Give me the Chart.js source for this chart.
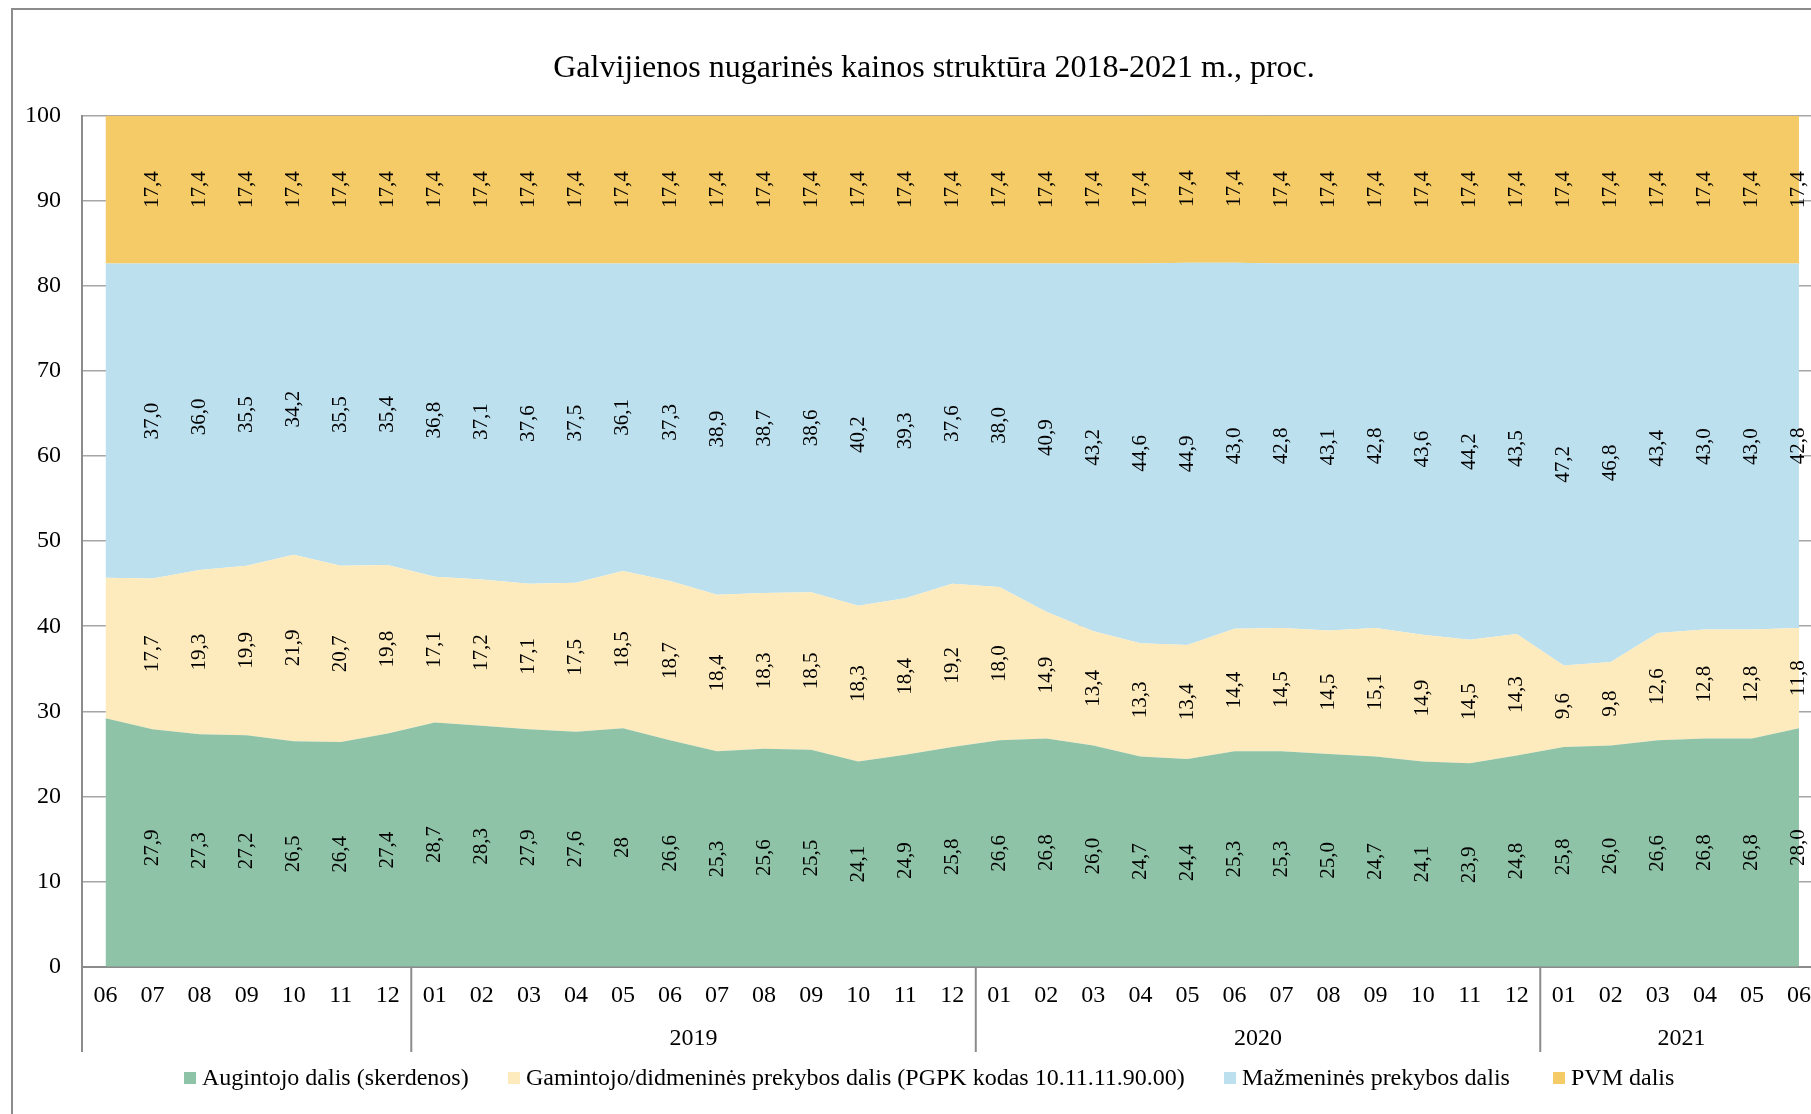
<!DOCTYPE html>
<html lang="lt">
<head>
<meta charset="utf-8">
<title>Galvijienos nugarinės kainos struktūra</title>
<script src="https://cdn.jsdelivr.net/npm/chart.js@4.4.1/dist/chart.umd.min.js"></script>
<style>
  html, body { margin: 0; padding: 0; overflow: hidden; background: #fff; }
  #wrap { position: relative; width: 1811px; height: 1114px; overflow: hidden; }
  #frame { position: absolute; left: 11px; top: 8px; width: 2000px; height: 2000px; border: 2px solid #8c8c8c; box-sizing: border-box; }
  #box { position: absolute; left: 0; top: 0; width: 1840px; height: 1114px; }
</style>
</head>
<body>
<div id="wrap">
  <div id="frame"></div>
  <div id="box"><canvas id="chart"></canvas></div>
</div>
<script>
// months from 2018-06 to 2021-06
const months = ['06', '07', '08', '09', '10', '11', '12',
  '01', '02', '03', '04', '05', '06', '07', '08', '09', '10', '11', '12',
  '01', '02', '03', '04', '05', '06', '07', '08', '09', '10', '11', '12',
  '01', '02', '03', '04', '05', '06'];
const yearLabels = ['', '2019', '2020', '2021'];
const yearSpans = [7, 12, 12, 6];

const augintojo = [29.2, 27.9, 27.3, 27.2, 26.5, 26.4, 27.4,
  28.7, 28.3, 27.9, 27.6, 28, 26.6, 25.3, 25.6, 25.5, 24.1, 24.9, 25.8,
  26.6, 26.8, 26.0, 24.7, 24.4, 25.3, 25.3, 25.0, 24.7, 24.1, 23.9, 24.8,
  25.8, 26.0, 26.6, 26.8, 26.8, 28.0];
const gamintojo = [16.5, 17.7, 19.3, 19.9, 21.9, 20.7, 19.8,
  17.1, 17.2, 17.1, 17.5, 18.5, 18.7, 18.4, 18.3, 18.5, 18.3, 18.4, 19.2,
  18.0, 14.9, 13.4, 13.3, 13.4, 14.4, 14.5, 14.5, 15.1, 14.9, 14.5, 14.3,
  9.6, 9.8, 12.6, 12.8, 12.8, 11.8];
const mazmenine = [36.9, 37.0, 36.0, 35.5, 34.2, 35.5, 35.4,
  36.8, 37.1, 37.6, 37.5, 36.1, 37.3, 38.9, 38.7, 38.6, 40.2, 39.3, 37.6,
  38.0, 40.9, 43.2, 44.6, 44.9, 43.0, 42.8, 43.1, 42.8, 43.6, 44.2, 43.5,
  47.2, 46.8, 43.4, 43.0, 43.0, 42.8];
const pvm = [17.4, 17.4, 17.4, 17.4, 17.4, 17.4, 17.4,
  17.4, 17.4, 17.4, 17.4, 17.4, 17.4, 17.4, 17.4, 17.4, 17.4, 17.4, 17.4,
  17.4, 17.4, 17.4, 17.4, 17.4, 17.4, 17.4, 17.4, 17.4, 17.4, 17.4, 17.4,
  17.4, 17.4, 17.4, 17.4, 17.4, 17.4];

// first month carries no value labels; one label is shown without decimals
const unlabeled = [0];
const noDecimal = [[11], [], [], []];

const serif = '"Liberation Serif", "Times New Roman", serif';
const legendX = [184, 508, 1224, 1553];

function fmt(v, series, idx) {
  if (noDecimal[series].includes(idx)) return String(Math.round(v));
  return v.toFixed(1).replace('.', ',');
}

const overlay = {
  id: 'overlay',
  afterDatasetsDraw(chart) {
    const ctx = chart.ctx;
    const y0 = chart.scales.y.getPixelForValue(0);
    ctx.save();
    ctx.font = '21px ' + serif;
    ctx.fillStyle = '#000';
    ctx.textAlign = 'center';
    ctx.textBaseline = 'middle';
    chart.data.datasets.forEach((ds, i) => {
      const meta = chart.getDatasetMeta(i);
      const below = i > 0 ? chart.getDatasetMeta(i - 1) : null;
      meta.data.forEach((pt, j) => {
        if (unlabeled.includes(j)) return;
        const bottom = below ? below.data[j].y : y0;
        const mid = (pt.y + bottom) / 2;
        ctx.save();
        ctx.translate(pt.x, mid);
        ctx.rotate(-Math.PI / 2);
        ctx.fillText(fmt(ds.data[j], i, j), 0, 0);
        ctx.restore();
      });
    });
    ctx.restore();
  },
  afterDraw(chart) {
    const ctx = chart.ctx;
    const x = chart.scales.x;
    const area = chart.chartArea;
    const half = (x.getPixelForValue(1) - x.getPixelForValue(0)) / 2;
    ctx.save();

    // title
    ctx.fillStyle = '#000';
    ctx.font = '32px ' + serif;
    ctx.textAlign = 'center';
    ctx.textBaseline = 'alphabetic';
    ctx.fillText('Galvijienos nugarinės kainos struktūra 2018-2021 m., proc.', 934, 77);

    // year groups under the month labels
    ctx.strokeStyle = '#8c8c8c';
    ctx.lineWidth = 2;
    ctx.font = '24px ' + serif;
    let start = 0;
    yearSpans.forEach((n, g) => {
      const first = x.getPixelForValue(start);
      const last = x.getPixelForValue(start + n - 1);
      ctx.beginPath();
      ctx.moveTo(first - half, area.bottom);
      ctx.lineTo(first - half, 1052);
      ctx.stroke();
      if (g === yearSpans.length - 1) {
        ctx.beginPath();
        ctx.moveTo(last + half, area.bottom);
        ctx.lineTo(last + half, 1052);
        ctx.stroke();
      }
      ctx.fillText(yearLabels[g], (first + last) / 2, 1045);
      start += n;
    });

    // legend
    ctx.textAlign = 'left';
    chart.data.datasets.forEach((ds, i) => {
      ctx.fillStyle = ds.backgroundColor;
      ctx.fillRect(legendX[i], 1072, 12, 12);
      ctx.fillStyle = '#000';
      ctx.fillText(ds.label, legendX[i] + 18, 1085);
    });
    ctx.restore();
  }
};

new Chart(document.getElementById('chart'), {
  type: 'line',
  data: {
    labels: months,
    datasets: [
      { label: 'Augintojo dalis (skerdenos)', data: augintojo, backgroundColor: '#8fc3a8', fill: 'origin' },
      { label: 'Gamintojo/didmeninės prekybos dalis (PGPK kodas 10.11.11.90.00)', data: gamintojo, backgroundColor: '#fdebbd', fill: '-1' },
      { label: 'Mažmeninės prekybos dalis', data: mazmenine, backgroundColor: '#bde0ef', fill: '-1' },
      { label: 'PVM dalis', data: pvm, backgroundColor: '#f4cb66', fill: '-1' }
    ].map(d => Object.assign(d, { borderWidth: 0, pointRadius: 0, pointHoverRadius: 0, tension: 0 }))
  },
  options: {
    responsive: true,
    maintainAspectRatio: false,
    animation: false,
    events: [],
    layout: { padding: { top: 115.5, left: 0, right: 17.5, bottom: 0 } },
    plugins: {
      legend: { display: false },
      title: { display: false },
      tooltip: { enabled: false }
    },
    scales: {
      x: {
        offset: true,
        grid: { drawOnChartArea: false, drawTicks: false },
        border: { color: '#8c8c8c', width: 2 },
        ticks: { autoSkip: false, maxRotation: 0, padding: 15, color: '#000', font: { family: serif, size: 24 } },
        afterFit(scale) { scale.height = 1114 - 966.7; }
      },
      y: {
        stacked: true,
        min: 0,
        max: 100,
        grid: { color: '#a6a6a6', lineWidth: 1.5, drawTicks: false },
        border: { color: '#8c8c8c', width: 2 },
        ticks: { stepSize: 10, padding: 21, color: '#000', font: { family: serif, size: 24 } },
        afterFit(scale) { scale.width = 82; }
      }
    }
  },
  plugins: [overlay]
});
</script>
</body>
</html>
